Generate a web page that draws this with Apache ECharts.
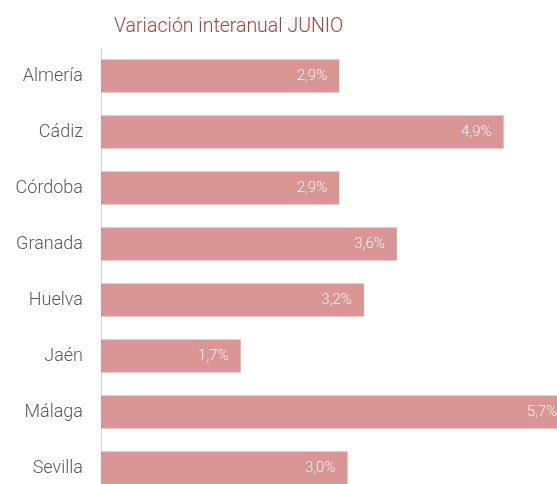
<!DOCTYPE html>
<html>
<head>
<meta charset="utf-8">
<script src="https://cdn.jsdelivr.net/npm/echarts@6/dist/echarts.min.js"></script>
<style>
  html, body { margin: 0; padding: 0; background: #fff; }
  #chart { width: 557px; height: 484px; }
</style>
</head>
<body>
<div id="chart"></div>
<script>
// datos del gráfico
var provincias = ['Almería', 'Cádiz', 'Córdoba', 'Granada', 'Huelva', 'Jaén', 'Málaga', 'Sevilla'];
var variacion = [2.9, 4.9, 2.9, 3.6, 3.2, 1.7, 5.7, 3.0];
var titulo = 'Variación interanual JUNIO';

var myChart = echarts.init(document.getElementById('chart'));

var option = {
    animation: false,
    title: {
        text: titulo,
        left: 109,
        top: 12,
        textStyle: {
            color: '#a6403f',
            fontSize: 19.5,
            fontWeight: 300,
            fontFamily: 'Roboto'
        }
    },
    grid: {
        left: 101,
        top: 48,
        width: 493,
        height: 448,
        containLabel: false,
        outerBoundsMode: 'none'
    },
    xAxis: {
        type: 'value',
        min: 0,
        max: 6,
        show: false
    },
    yAxis: {
        type: 'category',
        inverse: true,
        data: provincias,
        axisLine: { show: true, lineStyle: { color: '#d9d9d9', width: 1 } },
        axisTick: { show: false },
        axisLabel: {
            color: '#595959',
            fontSize: 18,
            fontWeight: 300,
            fontFamily: 'Roboto',
            margin: 18
        }
    },
    series: [{
        type: 'bar',
        data: variacion,
        barWidth: 33,
        itemStyle: { color: '#d99694' },
        label: {
            show: true,
            position: 'insideRight',
            distance: 12,
            color: '#f5f5f5',
            fontSize: 15,
            fontFamily: 'Roboto',
            fontWeight: 300,
            formatter: function (p) {
                return p.value.toFixed(1).replace('.', ',') + '%';
            }
        }
    }]
};

myChart.setOption(option);
</script>
</body>
</html>
